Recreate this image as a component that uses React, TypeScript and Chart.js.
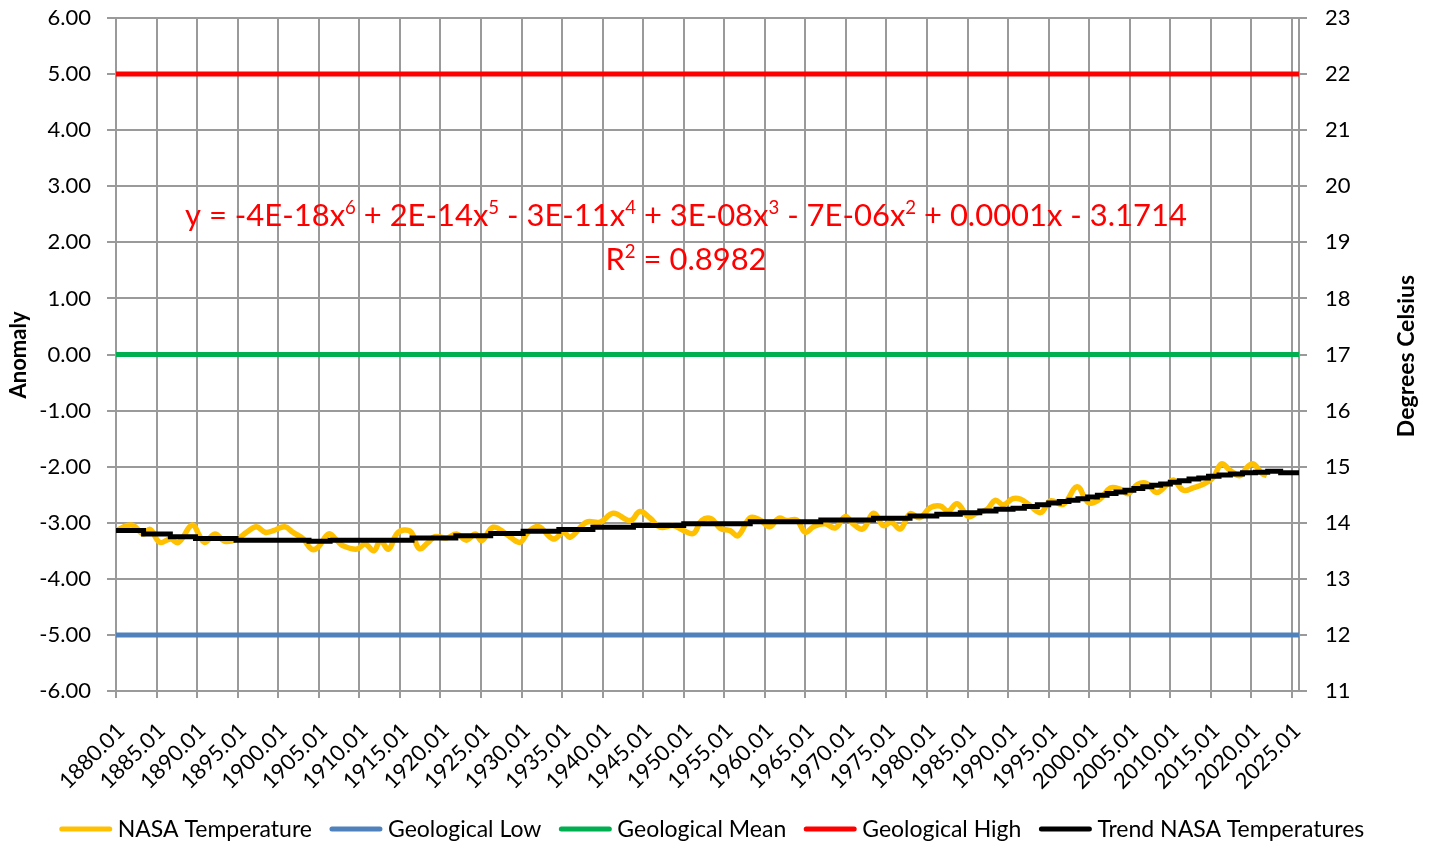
import React, { useEffect, useRef } from "react";
import { Chart, registerables } from "chart.js";

Chart.register(...registerables);

const FONT = "Lato";

// NASA temperature (smoothed), decimal year -> anomaly offset
const nasaYears = [
  1880.0, 1881.9, 1883.4, 1884.2, 1885.4, 1886.7, 1887.7, 1889.4, 1890.4, 1891.0,
  1892.2, 1893.4, 1894.9, 1896.1, 1897.3, 1898.4, 1899.4, 1900.8, 1901.8, 1903.1,
  1904.1, 1904.9, 1906.2, 1907.2, 1908.0, 1909.7, 1910.7, 1911.8, 1912.6, 1913.6,
  1914.6, 1915.5, 1916.4, 1917.4, 1918.5, 1919.3, 1920.8, 1922.0, 1923.2, 1924.3,
  1925.1, 1926.5, 1928.2, 1929.8, 1930.8, 1932.1, 1933.9, 1935.2, 1936.0, 1938.0,
  1939.7, 1941.3, 1943.4, 1944.6, 1945.8, 1947.1, 1948.7, 1950.0, 1951.2, 1952.2,
  1953.4, 1954.5, 1955.7, 1956.7, 1958.2, 1959.4, 1960.6, 1961.7, 1962.7, 1963.9,
  1965.0, 1966.0, 1967.4, 1968.7, 1969.9, 1970.9, 1972.1, 1973.4, 1974.6, 1975.6,
  1976.7, 1977.9, 1979.1, 1980.4, 1981.6, 1982.6, 1983.7, 1985.1, 1986.1, 1987.4,
  1988.4, 1989.4, 1990.6, 1991.5, 1992.5, 1994.0, 1995.2, 1996.8, 1998.5, 1999.9,
  2001.3, 2002.6, 2003.8, 2004.8, 2005.9, 2007.1, 2008.3, 2009.6, 2010.4, 2011.6,
  2012.8, 2014.1, 2015.3, 2016.3, 2017.4, 2018.6, 2019.4, 2020.2, 2021.3, 2021.9,
];
const nasaValues = [
  -3.14, -3.04, -3.2, -3.12, -3.35, -3.29, -3.35, -3.04, -3.26, -3.35,
  -3.2, -3.33, -3.29, -3.17, -3.07, -3.17, -3.14, -3.07, -3.17, -3.29,
  -3.47, -3.44, -3.2, -3.31, -3.41, -3.47, -3.38, -3.5, -3.32, -3.47,
  -3.2, -3.13, -3.17, -3.46, -3.35, -3.25, -3.27, -3.2, -3.31, -3.2,
  -3.32, -3.08, -3.21, -3.35, -3.17, -3.07, -3.29, -3.17, -3.26, -2.99,
  -2.99, -2.83, -2.96, -2.8, -2.91, -3.08, -3.05, -3.14, -3.19, -2.96,
  -2.93, -3.1, -3.14, -3.23, -2.91, -2.95, -3.07, -2.92, -2.96, -2.95,
  -3.17, -3.07, -3.02, -3.09, -2.89, -3.02, -3.11, -2.83, -3.05, -2.99,
  -3.11, -2.84, -2.91, -2.73, -2.7, -2.79, -2.66, -2.89, -2.83, -2.76,
  -2.6, -2.68, -2.57, -2.58, -2.67, -2.82, -2.61, -2.67, -2.36, -2.64,
  -2.58, -2.38, -2.4, -2.48, -2.32, -2.3, -2.46, -2.32, -2.24, -2.42,
  -2.38, -2.31, -2.19, -1.95, -2.07, -2.16, -2.02, -1.95, -2.12, -2.16,
];

// Polynomial trend (stepped)
const trendYears = [
  1880.0, 1883.4, 1886.7, 1889.8, 1894.8, 1903.8, 1906.4, 1916.5, 1921.9, 1926.2,
  1930.2, 1934.6, 1938.8, 1943.8, 1950.0, 1958.2, 1966.9, 1973.4, 1977.9, 1981.2,
  1984.1, 1986.5, 1988.5, 1990.6, 1992.0, 1993.6, 1995.0, 1996.3, 1997.5, 1998.6,
  1999.8, 2001.0, 2002.2, 2003.3, 2004.4, 2005.5, 2006.6, 2007.7, 2008.8, 2010.0,
  2011.1, 2012.3, 2013.5, 2014.7, 2016.0, 2017.4, 2018.9, 2020.5, 2022.0, 2023.6,
  2025.86,
];
const trendValues = [
  -3.14, -3.2, -3.25, -3.28, -3.31, -3.33, -3.31, -3.27, -3.23, -3.19,
  -3.15, -3.12, -3.08, -3.05, -3.02, -2.98, -2.95, -2.92, -2.88, -2.85,
  -2.82, -2.79, -2.76, -2.74, -2.71, -2.68, -2.65, -2.62, -2.6, -2.57,
  -2.54, -2.51, -2.48, -2.45, -2.42, -2.39, -2.36, -2.33, -2.31, -2.28,
  -2.25, -2.22, -2.2, -2.17, -2.15, -2.13, -2.11, -2.1, -2.08, -2.11,
  -2.11,
];

const xStart = 1880.0;
const xEnd = 2025.86;
const geoLow = -5;
const geoMean = 0;
const geoHigh = 5;
const celsiusOffset = 17;

const legendLabels = ["NASA Temperature", "Geological Low", "Geological Mean", "Geological High", "Trend NASA Temperatures"];
const legendColors = ["#FFC000", "#4F81BD", "#00B050", "#FF0000", "#000000"];

const equationParts: [string, boolean][] = [
  ["y = -4E-18x", false], ["6", true],
  [" + 2E-14x", false], ["5", true],
  [" - 3E-11x", false], ["4", true],
  [" + 3E-08x", false], ["3", true],
  [" - 7E-06x", false], ["2", true],
  [" + 0.0001x - 3.1714", false],
];
const r2Parts: [string, boolean][] = [["R", false], ["2", true], [" = 0.8982", false]];

const GRID = "#9a9a9a";
const TICK_SIZE = 22;

function drawParts(ctx: CanvasRenderingContext2D, parts: [string, boolean][], cx: number, baseline: number, size: number) {
  const widthOf = (p: [string, boolean]) => {
    ctx.font = `${p[1] ? size * 0.6 : size}px ${FONT}`;
    return ctx.measureText(p[0]).width;
  };
  const total = parts.reduce((s, p) => s + widthOf(p), 0);
  let x = cx - total / 2;
  ctx.textAlign = "left";
  ctx.textBaseline = "alphabetic";
  for (const p of parts) {
    const w = widthOf(p);
    ctx.fillText(p[0], x, p[1] ? baseline - size * 0.38 : baseline);
    x += w;
  }
}

function measureParts(ctx: CanvasRenderingContext2D, parts: [string, boolean][], size: number) {
  let t = 0;
  for (const p of parts) {
    ctx.font = `${p[1] ? size * 0.6 : size}px ${FONT}`;
    t += ctx.measureText(p[0]).width;
  }
  return t;
}

const overlayPlugin = {
  id: "overlay",
  afterDraw(chart: any) {
    const ctx: CanvasRenderingContext2D = chart.ctx;
    ctx.save();
    // axis titles
    ctx.fillStyle = "#000";
    ctx.font = `bold 22px ${FONT}`;
    ctx.textAlign = "center";
    ctx.textBaseline = "middle";
    ctx.save();
    ctx.translate(19, 355);
    ctx.rotate(-Math.PI / 2);
    ctx.fillText("Anomaly", 0, 0);
    ctx.restore();
    ctx.save();
    ctx.font = `bold 23px ${FONT}`;
    ctx.translate(1407, 356);
    ctx.rotate(-Math.PI / 2);
    ctx.fillText("Degrees Celsius", 0, 0);
    ctx.restore();

    // trendline equation
    ctx.fillStyle = "#FF0000";
    const base = 28;
    const w = measureParts(ctx, equationParts, base);
    const size = base * (1002 / w);
    drawParts(ctx, equationParts, 686, 226, size);
    drawParts(ctx, r2Parts, 686, 270, size);

    // legend
    ctx.font = `23px ${FONT}`;
    const markW = 52;
    const gapMT = 6;
    const gapItem = 18;
    const widths = legendLabels.map((l) => ctx.measureText(l).width);
    const total = widths.reduce((s, tw) => s + markW + gapMT + tw, 0) + gapItem * (legendLabels.length - 1);
    let x = 712 - total / 2;
    const ly = 829;
    legendLabels.forEach((l, i) => {
      ctx.strokeStyle = legendColors[i];
      ctx.lineWidth = 5;
      ctx.lineCap = "round";
      ctx.beginPath();
      ctx.moveTo(x + 2, ly);
      ctx.lineTo(x + markW - 2, ly);
      ctx.stroke();
      ctx.fillStyle = "#000";
      ctx.textAlign = "left";
      ctx.textBaseline = "middle";
      ctx.fillText(l, x + markW + gapMT, ly + 1);
      x += markW + gapMT + widths[i] + gapItem;
    });
    ctx.restore();
  },
};

export default function App() {
  const ref = useRef<HTMLCanvasElement>(null);
  useEffect(() => {
    const canvas = ref.current!;
    const nasa = nasaYears.map((x, i) => ({ x, y: nasaValues[i] }));
    const trend = trendYears.map((x, i) => ({ x, y: trendValues[i] }));
    const flat = (v: number) => [{ x: xStart, y: v }, { x: xEnd, y: v }];
    const fixV = (w: number) => (s: any) => {
      s.width = w;
      s.paddingTop = 0;
      s.paddingBottom = 0;
    };
    const chart = new Chart(canvas, {
      type: "line",
      data: {
        datasets: [
          { label: legendLabels[0], data: nasa, borderColor: legendColors[0], borderWidth: 5.5, pointRadius: 0, tension: 0.4, order: 2 },
          { label: legendLabels[1], data: flat(geoLow), borderColor: legendColors[1], borderWidth: 5, pointRadius: 0, order: 3 },
          { label: legendLabels[2], data: flat(geoMean), borderColor: legendColors[2], borderWidth: 5, pointRadius: 0, order: 3 },
          { label: legendLabels[3], data: flat(geoHigh), borderColor: legendColors[3], borderWidth: 5, pointRadius: 0, order: 3 },
          { label: legendLabels[4], data: trend, borderColor: legendColors[4], borderWidth: 5, pointRadius: 0, stepped: true, order: 1 },
        ],
      },
      options: {
        animation: false,
        responsive: false,
        devicePixelRatio: 1,
        layout: { padding: { top: 18, left: 0, right: 0, bottom: 0 } },
        plugins: { legend: { display: false }, tooltip: { enabled: false } },
        scales: {
          x: {
            type: "linear",
            min: xStart,
            max: xEnd,
            afterFit: (s: any) => { s.height = 844 - 691; },
            ticks: {
              stepSize: 5,
              includeBounds: false,
              autoSkip: false,
              minRotation: 45,
              maxRotation: 45,
              padding: 20,
              labelOffset: 5,
              color: "#000",
              font: { family: FONT, size: TICK_SIZE },
              callback: (v: any) => `${Math.round(Number(v))}.01`,
            },
            grid: { color: GRID, lineWidth: 2, tickLength: 7 },
            border: { color: GRID, width: 2 },
          },
          y: {
            position: "left",
            min: -6,
            max: 6,
            afterFit: fixV(116),
            ticks: {
              stepSize: 1,
              padding: 16,
              color: "#000",
              font: { family: FONT, size: TICK_SIZE },
              callback: (v: any) => Number(v).toFixed(2),
            },
            grid: { color: GRID, lineWidth: 2, tickLength: 9 },
            border: { color: GRID, width: 2 },
          },
          y1: {
            position: "right",
            min: -6 + celsiusOffset,
            max: 6 + celsiusOffset,
            afterFit: fixV(1430 - 1299),
            ticks: {
              stepSize: 1,
              padding: 18,
              color: "#000",
              font: { family: FONT, size: TICK_SIZE },
            },
            grid: { drawOnChartArea: false, color: GRID, lineWidth: 2, tickLength: 8 },
            border: { color: GRID, width: 2 },
          },
        },
      },
      plugins: [overlayPlugin],
    } as any);
    return () => chart.destroy();
  }, []);
  return (
    <div style={{ position: "fixed", left: 0, top: 0, width: 1430, height: 844, background: "#fff" }}>
      <canvas ref={ref} width={1430} height={844} style={{ width: 1430, height: 844 }} />
    </div>
  );
}
